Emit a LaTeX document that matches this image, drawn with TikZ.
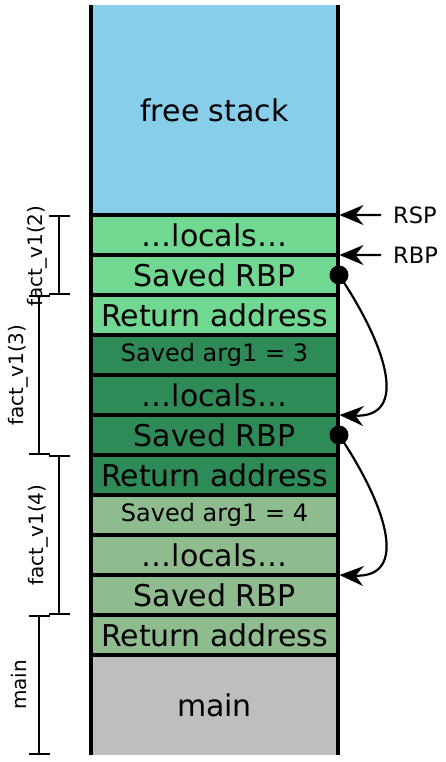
\documentclass[tikz,border=0pt]{standalone}
\usepackage{fontspec}
\setmainfont{DejaVu Sans}
\usetikzlibrary{arrows.meta}
\definecolor{freeblue}{HTML}{87CEEB}
\definecolor{lgreen}{HTML}{70D890}
\definecolor{dgreen}{HTML}{2E8B57}
\definecolor{pgreen}{HTML}{8FBC8F}
\definecolor{maingray}{HTML}{BEBEBE}
\tikzset{
  cell/.style={inner sep=0pt, outer sep=0pt, minimum width=247bp, minimum height=40bp,
    font=\fontsize{30bp}{32bp}\selectfont},
  smallcell/.style={cell, font=\fontsize{24bp}{26bp}\selectfont},
  sep/.style={line width=3.5bp},
  brk/.style={line width=2bp},
  brklabel/.style={rotate=90, inner sep=0pt, font=\fontsize{20bp}{22bp}\selectfont},
  reglabel/.style={anchor=west, inner sep=0pt, font=\fontsize{22.5bp}{24bp}\selectfont},
  ptr/.style={line width=2.2bp, -{Stealth[length=24bp,width=20bp,inset=8bp]}},
  dot/.style={circle, fill=black, inner sep=0pt, minimum size=19bp}
}
\begin{document}
\begin{tikzpicture}[x=1bp,y=-1bp]
\useasboundingbox (0,0) rectangle (446,762);
% cells
\node[cell, fill=freeblue, minimum height=210bp] (free) at (214.5,110) {free stack};
\node[cell, fill=lgreen] (c1) at (214.5,235) {…locals…};
\node[cell, fill=lgreen] (c2) at (214.5,275) {Saved RBP};
\node[cell, fill=lgreen] (c3) at (214.5,315) {Return address};
\node[smallcell, fill=dgreen] (c4) at (214.5,355) {Saved arg1 = 3};
\node[cell, fill=dgreen] (c5) at (214.5,395) {…locals…};
\node[cell, fill=dgreen] (c6) at (214.5,435) {Saved RBP};
\node[cell, fill=dgreen] (c7) at (214.5,475) {Return address};
\node[smallcell, fill=pgreen] (c8) at (214.5,515) {Saved arg1 = 4};
\node[cell, fill=pgreen] (c9) at (214.5,555) {…locals…};
\node[cell, fill=pgreen] (c10) at (214.5,595) {Saved RBP};
\node[cell, fill=pgreen] (c11) at (214.5,635) {Return address};
\node[cell, fill=maingray, minimum height=100bp] (m) at (214.5,705) {main};
% separators
\foreach \c in {c1,c2,c3,c4,c5,c6,c7,c8,c9,c10,c11,m}
  \draw[sep] ([xshift=-1.5bp]\c.north west) -- ([xshift=1.5bp]\c.north east);
\draw[sep] (free.north west) -- (m.south west);
\draw[sep] (free.north east) -- (m.south east);
% register pointers
\coordinate (rsptail) at (381,215);
\coordinate (rbptail) at (381,255);
\node[reglabel] (rsp) at (393,215) {RSP};
\node[reglabel] (rbp) at (393,255) {RBP};
\draw[ptr] (rsptail) -- ([xshift=1.5bp]c1.north east);
\draw[ptr] (rbptail) -- ([xshift=1.5bp]c2.north east);
% saved rbp chain
\node[dot] (d1) at (339,275) {};
\node[dot] (d2) at (339,435) {};
\draw[ptr] (d1.center) .. controls (386,345) and (410,418) .. ([xshift=1.5bp]c6.north east);
\draw[ptr] (d2.center) .. controls (386,505) and (410,578) .. ([xshift=1.5bp]c10.north east);
% brackets
\coordinate (b2t) at (59,216); \coordinate (b2b) at (59,294);
\coordinate (b3t) at (39,296); \coordinate (b3b) at (39,454);
\coordinate (b4t) at (59,456); \coordinate (b4b) at (59,614);
\coordinate (bmt) at (39,616); \coordinate (bmb) at (39,754);
\foreach \t/\b in {b2t/b2b,b3t/b3b,b4t/b4b,bmt/bmb}{
  \draw[brk] (\t) -- (\b);
  \draw[brk] ([xshift=-10.5bp]\t) -- ([xshift=10.5bp]\t);
  \draw[brk] ([xshift=-10.5bp]\b) -- ([xshift=10.5bp]\b);
}
\node[brklabel] (l2) at (37,256) {fact\_v1(2)};
\node[brklabel] (l3) at (18,375) {fact\_v1(3)};
\node[brklabel] (l4) at (38,535) {fact\_v1(4)};
\node[brklabel] (lm) at (19,685) {main};
\end{tikzpicture}
\end{document}
